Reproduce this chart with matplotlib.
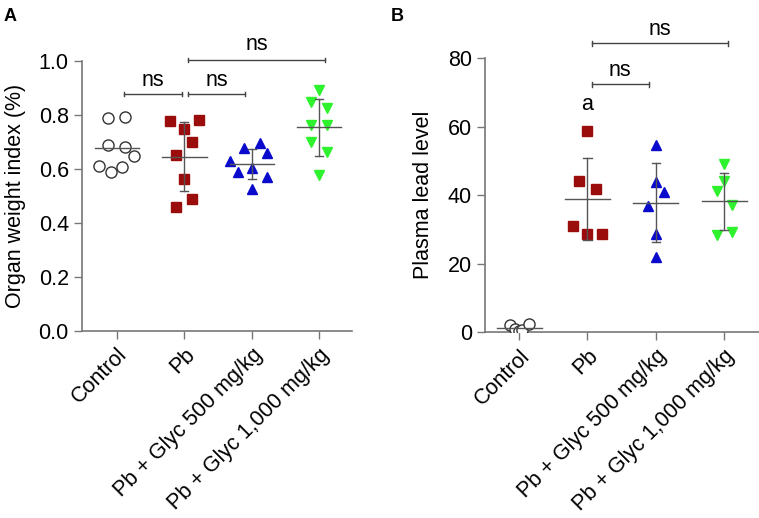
"""
Organ weight index and plasma lead level, two dot plots
"""

import numpy as np
import matplotlib.pyplot as plt

plt.rcParams['font.family'] = ['Liberation Sans', 'DejaVu Sans']

# DATA

groups = ['Control', 'Pb', 'Pb + Glyc 500 mg/kg', 'Pb + Glyc 1,000 mg/kg']

# panel A: organ weight index (%)
owi_control = [0.791, 0.794, 0.691, 0.683, 0.648, 0.612, 0.609, 0.588]
owi_pb = [0.778, 0.783, 0.749, 0.699, 0.651, 0.565, 0.489, 0.458]
owi_glyc500 = [0.677, 0.695, 0.660, 0.630, 0.603, 0.588, 0.569, 0.528]
owi_glyc1000 = [0.893, 0.847, 0.828, 0.763, 0.763, 0.701, 0.662, 0.578]
owi_jitter = [
    [-0.13, 0.12, -0.13, 0.12, 0.25, -0.26, 0.08, -0.09],
    [-0.21, 0.22, 0.0, 0.12, -0.12, 0.0, 0.12, -0.12],
    [-0.12, 0.12, 0.22, -0.33, 0.0, -0.21, 0.22, 0.0],
    [0.0, -0.12, 0.12, -0.12, 0.12, -0.12, 0.12, 0.0],
]

# panel B: plasma lead level
pll_control = [2.2, 0.8, 0.3, 0.6, 2.3]
pll_pb = [58.8, 44.0, 41.9, 30.9, 28.7, 28.7]
pll_glyc500 = [54.6, 43.8, 40.8, 36.7, 28.6, 21.8]
pll_glyc1000 = [49.1, 44.2, 41.1, 37.0, 28.4, 29.2]
pll_jitter = [
    [-0.14, -0.06, 0.0, 0.04, 0.14],
    [0.0, -0.12, 0.12, -0.21, 0.0, 0.21],
    [0.0, 0.0, 0.12, -0.12, 0.0, 0.0],
    [0.0, 0.0, -0.11, 0.12, -0.11, 0.12],
]

# style per group: marker, face, edge, size
styles = [
    ('o', 'white', '#333333', 8),
    ('s', '#9B0D0D', '#9B0D0D', 6.5),
    ('^', '#0A0ACC', '#0A0ACC', 7.5),
    ('v', '#2EF22E', '#2EF22E', 7.5),
]

LINE_C = '#555555'
SPINE_C = '#777777'
FS = 15.5


# FUNCTIONS

def dot_panel(ax, values, jitter, show_sd):
    for i, (vals, jit) in enumerate(zip(values, jitter)):
        m, fc, ec, ms = styles[i]
        xs = [i + j for j in jit]
        ax.plot(xs, vals, linestyle='none', marker=m, ms=ms, mfc=fc, mec=ec,
                mew=1.0, zorder=3)
        mean = np.mean(vals)
        sd = np.std(vals, ddof=1)
        ax.plot([i - 0.33, i + 0.33], [mean, mean], color=LINE_C, lw=1.0, zorder=4)
        if show_sd[i]:
            ax.plot([i, i], [mean - sd, mean + sd], color=LINE_C, lw=1.0, zorder=4)
            for yy in (mean - sd, mean + sd):
                ax.plot([i - 0.06, i + 0.06], [yy, yy], color=LINE_C, lw=1.0, zorder=4)


def bracket(ax, x0, x1, y, cap, text, ty):
    ax.plot([x0, x1], [y, y], color='#444444', lw=1.0, clip_on=False)
    for xx in (x0, x1):
        ax.plot([xx, xx], [y - cap, y + cap], color='#444444', lw=1.0, clip_on=False)
    ax.text((x0 + x1) / 2, ty, text, ha='center', va='center', fontsize=FS, clip_on=False)


def style_axes(ax):
    for s in ('top', 'right'):
        ax.spines[s].set_visible(False)
    for s in ('left', 'bottom'):
        ax.spines[s].set_color(SPINE_C)
        ax.spines[s].set_linewidth(1.2)
    ax.tick_params(direction='out', length=6, width=1.0, color=SPINE_C, labelsize=FS)
    ax.set_xticks(range(len(groups)))
    ax.set_xticklabels(groups, rotation=45, ha='right', rotation_mode='anchor')


fig = plt.figure(figsize=(7.59, 5.18), dpi=100)

# panel A
axA = fig.add_axes([0.108, 0.361, 0.356, 0.521])
dot_panel(axA, [owi_control, owi_pb, owi_glyc500, owi_glyc1000], owi_jitter,
          [False, True, True, True])
axA.set_xlim(-0.52, 3.49)
axA.set_ylim(0, 1.0)
axA.set_yticks([0.0, 0.2, 0.4, 0.6, 0.8, 1.0])
axA.set_yticklabels(['0.0', '0.2', '0.4', '0.6', '0.8', '1.0'])
axA.set_ylabel('Organ weight index (%)', fontsize=FS, labelpad=9)
style_axes(axA)
bracket(axA, 0.1, 0.97, 0.877, 0.008, 'ns', 0.93)
bracket(axA, 1.06, 1.9, 0.877, 0.008, 'ns', 0.93)
bracket(axA, 1.06, 3.08, 1.005, 0.008, 'ns', 1.06)

# panel B
axB = fig.add_axes([0.639, 0.359, 0.361, 0.529])
dot_panel(axB, [pll_control, pll_pb, pll_glyc500, pll_glyc1000], pll_jitter,
          [False, True, True, True])
axB.set_xlim(-0.5, 3.51)
axB.set_ylim(0, 80)
axB.set_yticks([0, 20, 40, 60, 80])
axB.set_ylabel('Plasma lead level', fontsize=FS, labelpad=10)
style_axes(axB)
bracket(axB, 1.06, 1.9, 72.3, 0.7, 'ns', 76.3)
bracket(axB, 1.06, 3.06, 84.3, 0.7, 'ns', 88.3)
axB.text(1.0, 66.3, 'a', ha='center', va='center', fontsize=FS)

fig.text(0.005, 0.985, 'A', fontsize=13, fontweight='bold', va='top')
fig.text(0.515, 0.985, 'B', fontsize=13, fontweight='bold', va='top')

fig.savefig('out.png', dpi=100)
